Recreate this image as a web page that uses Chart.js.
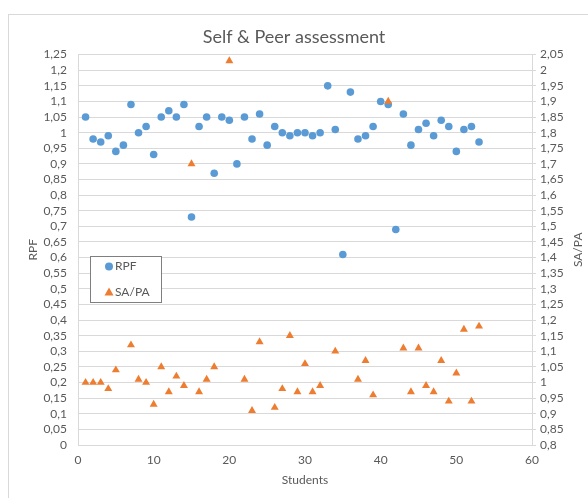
<!DOCTYPE html>
<html>
<head>
<meta charset="utf-8">
<title>Self & Peer assessment</title>
<script src="https://cdn.jsdelivr.net/npm/chart.js@4"></script>
<style>
  body { margin: 0; background: #fff; }
  canvas { display: block; }
</style>
</head>
<body>
<canvas id="chart" width="588" height="498"></canvas>
<script>
const students = [1, 2, 3, 4, 5, 6, 7, 8, 9, 10, 11, 12, 13, 14, 15, 16, 17, 18, 19, 20,
  21, 22, 23, 24, 25, 26, 27, 28, 29, 30, 31, 32, 33, 34, 35, 36, 37, 38, 39, 40,
  41, 42, 43, 44, 45, 46, 47, 48, 49, 50, 51, 52, 53];

const rpf = [1.05, 0.98, 0.97, 0.99, 0.94, 0.96, 1.09, 1.00, 1.02, 0.93,
  1.05, 1.07, 1.05, 1.09, 0.73, 1.02, 1.05, 0.87, 1.05, 1.04,
  0.90, 1.05, 0.98, 1.06, 0.96, 1.02, 1.00, 0.99, 1.00, 1.00,
  0.99, 1.00, 1.15, 1.01, 0.61, 1.13, 0.98, 0.99, 1.02, 1.10,
  1.09, 0.69, 1.06, 0.96, 1.01, 1.03, 0.99, 1.04, 1.02, 0.94,
  1.01, 1.02, 0.97];

// points below the secondary axis minimum are not visible in the picture
const saPa = [1.00, 1.00, 1.00, 0.98, 1.04, null, 1.12, 1.01, 1.00, 0.93,
  1.05, 0.97, 1.02, 0.99, 1.70, 0.97, 1.01, 1.05, null, 2.03,
  null, 1.01, 0.91, 1.13, null, 0.92, 0.98, 1.15, 0.97, 1.06,
  0.97, 0.99, null, 1.10, null, null, 1.01, 1.07, 0.96, null,
  1.90, null, 1.11, 0.97, 1.11, 0.99, 0.97, 1.07, 0.94, 1.03,
  1.17, 0.94, 1.18];

const labelColor = "#595959";
const gridColor = "#d9d9d9";
const fontFamily = "Lato, 'Open Sans', sans-serif";

function toPoints(ys) {
  return students.map((s, i) => ({ x: s, y: ys[i] }));
}

function comma(v) {
  return Number(v.toFixed(2)).toString().replace(".", ",");
}

// light frame around the whole chart, like the Excel chart area
const frame = {
  id: "frame",
  beforeDraw(chart) {
    const ctx = chart.ctx;
    ctx.save();
    ctx.strokeStyle = gridColor;
    ctx.lineWidth = 1;
    ctx.strokeRect(8.5, 14.5, 600, 500);
    ctx.restore();
  }
};

// legend box inside the plot area
const boxLegend = {
  id: "boxLegend",
  afterDraw(chart) {
    const ctx = chart.ctx;
    const x0 = 90.5, y0 = 256.5;
    ctx.save();
    ctx.strokeStyle = "#7f7f7f";
    ctx.lineWidth = 1;
    ctx.fillStyle = "#fff";
    ctx.fillRect(x0, y0, 71, 46);
    ctx.strokeRect(x0, y0, 71, 46);
    chart.data.datasets.forEach((ds, i) => {
      const cy = y0 + 10 + i * 25.5;
      const cx = x0 + 18.5;
      ctx.fillStyle = ds.backgroundColor;
      ctx.beginPath();
      if (ds.pointStyle === "triangle") {
        ctx.moveTo(cx, cy - 4.5);
        ctx.lineTo(cx + 4.5, cy + 3.5);
        ctx.lineTo(cx - 4.5, cy + 3.5);
        ctx.closePath();
      } else {
        ctx.arc(cx, cy, 4, 0, Math.PI * 2);
      }
      ctx.fill();
      ctx.fillStyle = labelColor;
      ctx.font = "12px " + fontFamily;
      ctx.textBaseline = "middle";
      ctx.textAlign = "left";
      ctx.fillText(ds.label, cx + 6, cy);
    });
    ctx.restore();
  }
};

// secondary axis title, rotated like the primary one
const rightTitle = {
  id: "rightTitle",
  afterDraw(chart) {
    const ctx = chart.ctx;
    const area = chart.chartArea;
    ctx.save();
    ctx.translate(578, (area.top + area.bottom) / 2);
    ctx.rotate(-Math.PI / 2);
    ctx.font = "12px " + fontFamily;
    ctx.fillStyle = labelColor;
    ctx.textAlign = "center";
    ctx.textBaseline = "middle";
    ctx.fillText("SA/PA", 0, 0);
    ctx.restore();
  }
};

new Chart(document.getElementById("chart"), {
  type: "scatter",
  data: {
    datasets: [
      {
        label: "RPF",
        data: toPoints(rpf),
        yAxisID: "y",
        pointStyle: "circle",
        pointRadius: 3.8,
        pointHoverRadius: 3.8,
        backgroundColor: "#5b9bd5",
        borderColor: "#5b9bd5",
        borderWidth: 0,
        order: 1
      },
      {
        label: "SA/PA",
        data: toPoints(saPa),
        yAxisID: "y2",
        pointStyle: "triangle",
        pointRadius: 4.6,
        pointHoverRadius: 4.6,
        backgroundColor: "#ed7d31",
        borderColor: "#ed7d31",
        borderWidth: 0,
        order: 0
      }
    ]
  },
  options: {
    responsive: false,
    animation: false,
    layout: { padding: 0 },
    plugins: {
      legend: { display: false },
      tooltip: { enabled: false },
      title: {
        display: true,
        text: "Self & Peer assessment",
        color: labelColor,
        font: { family: fontFamily, size: 18, weight: "normal" },
        padding: { top: 26, bottom: 7 }
      }
    },
    scales: {
      x: {
        type: "linear",
        min: 0,
        max: 60,
        afterFit: (s) => { s.height = 53; },
        ticks: {
          stepSize: 10,
          color: labelColor,
          padding: 8,
          font: { family: fontFamily, size: 12 }
        },
        grid: { display: false, drawTicks: false },
        border: { display: true, color: gridColor },
        title: {
          display: true,
          text: "Students",
          color: labelColor,
          font: { family: fontFamily, size: 12 },
          padding: { top: 0, bottom: 11 }
        }
      },
      y: {
        position: "left",
        min: 0,
        max: 1.25,
        afterFit: (s) => { s.width = 78; },
        ticks: {
          stepSize: 0.05,
          autoSkip: false,
          color: labelColor,
          padding: 11,
          font: { family: fontFamily, size: 12 },
          callback: (v) => comma(v)
        },
        grid: { color: gridColor, drawTicks: false },
        border: { display: true, color: gridColor },
        title: {
          display: true,
          text: "RPF",
          color: labelColor,
          font: { family: fontFamily, size: 12 },
          padding: { top: 26, bottom: 0 }
        }
      },
      y2: {
        position: "right",
        min: 0.8,
        max: 2.05,
        afterFit: (s) => { s.width = 56; },
        ticks: {
          stepSize: 0.05,
          autoSkip: false,
          color: labelColor,
          padding: 4,
          font: { family: fontFamily, size: 12 },
          callback: (v) => comma(v)
        },
        grid: { drawOnChartArea: false, color: gridColor, tickLength: 4 },
        border: { display: true, color: gridColor }
      }
    }
  },
  plugins: [frame, boxLegend, rightTitle]
});
</script>
</body>
</html>
